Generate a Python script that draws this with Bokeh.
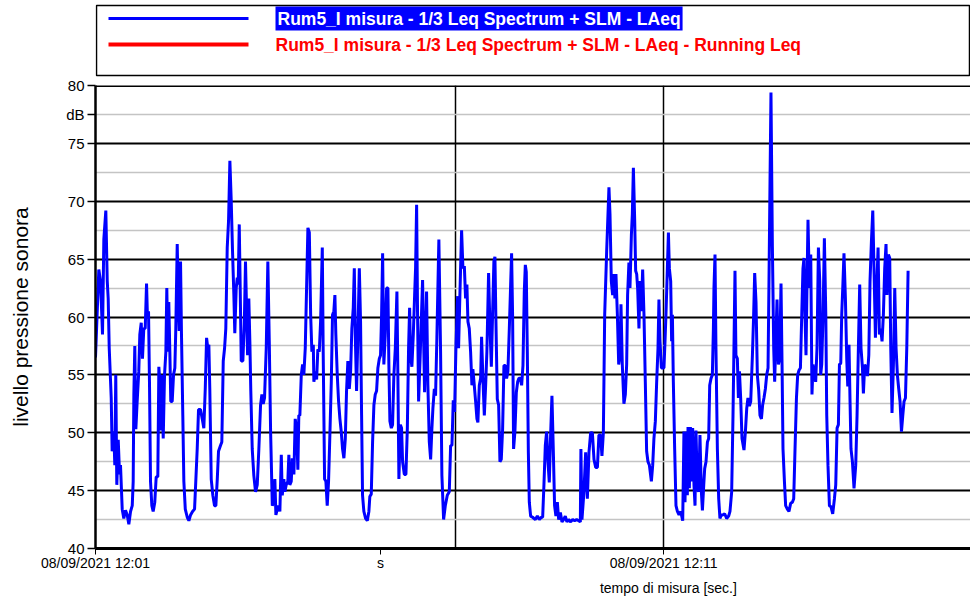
from bokeh.plotting import figure
from bokeh.models import Range1d, FixedTicker, Label, Span, LinearAxis
from bokeh.layouts import column
from bokeh.embed import file_html
from bokeh.resources import INLINE

# ---------------- data ----------------
series_names = [
    "Rum5_I misura - 1/3 Leq Spectrum + SLM - LAeq",
    "Rum5_I misura - 1/3 Leq Spectrum + SLM - LAeq - Running Leq",
]
y_ticks = [40, 45, 50, 55, 60, 65, 70, 75, 80]
y_minor = [42.5, 47.5, 52.5, 57.5, 62.5, 67.5, 72.5, 77.5]
y_unit = "dB"
y_unit_pos = 77.5
x_tick_sec = [0, 301, 600]
x_tick_labels = ["08/09/2021 12:01", "s", "08/09/2021 12:11"]
x_title = "tempo di misura [sec.]"
x_title_pos = 605
x_grid_sec = [380, 600]
x_max_sec = 924

# seconds from 12:01:00
t_sec = [
    0, 3.5, 5.3, 7.4, 8.8, 10.9, 12.4, 13.4, 14.5, 16.6,
    17.6, 19.3, 20.4, 21.4, 22.5, 24.0, 25.4, 26.4, 28.2, 29.9,
    31.7, 33.5, 35.2, 37.0, 38.8, 39.8, 40.5, 41.5, 42.6, 44.0,
    45.7, 46.8, 48.3, 49.6, 51.0, 52.5, 53.9, 54.9, 56.0, 57.0,
    58.1, 59.5, 60.9, 62.6, 64.1, 65.8, 66.9, 67.9, 69.0, 70.0,
    71.5, 72.9, 74.3, 75.3, 76.4, 77.4, 78.5, 79.5, 81.0, 82.4,
    83.8, 84.8, 86.3, 87.4, 88.4, 89.8, 90.8, 92.2, 93.3, 94.8,
    96.9, 98.6, 100.4, 102.5, 104.6, 105.9, 107.4, 108.8, 110.9, 112.7,
    114.4, 115.9, 117.3, 118.6, 119.7, 120.7, 122.2, 123.9, 125.7, 127.1,
    128.6, 129.9, 132.0, 133.4, 134.9, 136.3, 137.6, 139.1, 140.5, 141.9,
    143.3, 144.7, 146.1, 147.1, 148.6, 149.7, 150.7, 151.8, 152.8, 153.9,
    155.6, 157.1, 158.4, 159.5, 160.6, 161.9, 163.0, 164.0, 165.5, 167.2,
    169.0, 170.8, 172.5, 174.3, 175.7, 177.1, 178.5, 180.3, 182.0, 183.5,
    184.9, 186.7, 188.0, 189.4, 190.5, 191.9, 193.3, 194.7, 196.2, 197.2,
    198.9, 200.0, 201.4, 203.1, 204.2, 205.2, 206.7, 207.8, 209.5, 210.9,
    212.3, 213.7, 214.7, 215.8, 217.3, 218.7, 220.0, 221.5, 222.9, 224.3,
    225.8, 227.2, 228.5, 230.0, 230.6, 232.1, 233.5, 234.8, 236.3, 237.7,
    239.5, 240.4, 241.9, 243.3, 244.7, 246.1, 247.5, 249.0, 250.3, 251.7,
    252.8, 253.8, 255.3, 256.7, 258.1, 259.5, 260.9, 262.3, 263.8, 265.1,
    266.5, 268.0, 269.4, 270.7, 272.2, 273.3, 274.3, 275.7, 277.1, 278.6,
    279.9, 281.0, 282.0, 283.4, 285.2, 287.0, 288.7, 289.7, 291.2, 292.6,
    294.0, 295.4, 296.8, 298.2, 299.7, 301.0, 302.1, 303.2, 304.5, 306.0,
    307.4, 308.8, 309.8, 310.9, 312.4, 313.7, 315.1, 316.6, 318.3, 319.3,
    320.4, 321.9, 323.2, 324.3, 326.1, 327.8, 329.3, 330.6, 331.7, 332.7,
    334.1, 335.6, 337.0, 338.0, 339.1, 340.1, 341.2, 343.0, 345.4, 347.5,
    349.6, 351.0, 352.5, 353.9, 355.2, 356.3, 357.8, 359.1, 360.5, 362.6,
    364.4, 365.8, 367.6, 369.4, 371.5, 373.6, 375.0, 376.4, 377.8, 379.2,
    380.6, 382.4, 383.4, 384.8, 386.6, 388.0, 389.5, 390.8, 392.2, 393.3,
    394.7, 396.1, 397.5, 398.5, 400.0, 401.4, 402.8, 403.8, 405.3, 406.7,
    407.7, 409.1, 410.6, 412.0, 413.3, 415.1, 416.5, 418.0, 419.4, 420.7,
    421.8, 422.8, 424.3, 425.7, 427.1, 428.5, 429.9, 431.3, 432.8, 434.1,
    435.5, 437.0, 438.4, 439.4, 440.5, 441.5, 442.9, 444.4, 445.8, 447.1,
    448.6, 450.0, 451.4, 452.8, 453.9, 454.9, 456.0, 457.1, 458.1, 459.5,
    461.6, 464.5, 466.6, 468.7, 470.8, 472.2, 473.5, 475.0, 476.4, 477.8,
    479.2, 480.6, 482.0, 483.5, 484.8, 486.2, 487.7, 489.1, 490.9, 492.6,
    494.3, 496.1, 497.8, 499.6, 501.8, 503.9, 506.0, 508.1, 510.2, 512.0,
    512.6, 513.7, 515.8, 517.6, 519.4, 521.1, 522.9, 524.7, 526.4, 528.2,
    530.0, 531.6, 533.4, 534.8, 536.3, 537.7, 539.8, 542.2, 543.3, 544.7,
    546.1, 547.5, 548.5, 549.6, 551.1, 552.5, 553.8, 554.9, 556.3, 558.0,
    559.5, 560.9, 561.9, 563.3, 564.4, 565.9, 566.9, 568.0, 569.4, 570.4,
    571.5, 572.5, 573.9, 575.0, 576.4, 577.8, 579.2, 580.6, 582.0, 583.4,
    584.9, 587.0, 588.4, 589.7, 591.2, 592.6, 594.0, 595.0, 596.1, 597.6,
    598.9, 600.3, 601.4, 602.4, 603.9, 605.0, 606.0, 607.4, 608.4, 609.2,
    610.2, 611.6, 613.0, 614.5, 616.2, 618.0, 620.1, 621.4, 622.5, 623.9,
    625.0, 625.7, 627.1, 628.2, 629.6, 630.6, 632.0, 633.1, 634.1, 635.6,
    637.0, 638.3, 639.8, 640.9, 642.3, 643.3, 644.7, 646.2, 647.5, 648.6,
    650.0, 651.4, 652.5, 653.1, 654.2, 655.2, 656.7, 658.1, 659.4, 660.9,
    662.3, 664.4, 666.5, 668.6, 670.0, 671.8, 673.2, 674.2, 675.3, 676.3,
    677.8, 678.9, 680.0, 681.3, 682.7, 684.8, 686.3, 687.7, 689.0, 690.5,
    691.9, 693.7, 695.0, 696.1, 697.5, 698.9, 700.3, 701.7, 703.2, 704.5,
    705.9, 707.4, 708.8, 710.2, 711.2, 712.3, 713.3, 714.8, 716.2, 717.2,
    718.6, 719.7, 721.1, 722.5, 723.9, 725.0, 726.0, 727.5, 728.8, 730.6,
    732.3, 734.1, 735.9, 737.3, 738.7, 740.2, 741.5, 742.9, 744.4, 745.8,
    747.1, 748.2, 749.2, 750.3, 751.4, 752.4, 753.9, 755.3, 756.6, 757.7,
    759.2, 760.5, 761.9, 763.4, 764.8, 765.8, 766.9, 768.3, 769.7, 771.2,
    772.2, 773.5, 775.0, 776.7, 778.5, 780.3, 781.7, 783.1, 784.5, 785.6,
    787.0, 788.0, 789.1, 790.4, 791.9, 793.3, 794.4, 795.7, 796.8, 797.8,
    799.3, 801.0, 802.8, 804.2, 805.6, 807.0, 808.4, 809.9, 810.9, 812.3,
    813.7, 815.2, 816.6, 817.9, 819.4, 820.8, 822.1, 823.6, 825.0, 826.4,
    827.8, 829.2, 830.6, 832.0, 833.4, 834.8, 835.8, 837.3, 838.7, 839.8,
    841.1, 842.6, 844.0, 845.4, 846.8, 848.2, 849.6, 851.1, 852.5, 853.8,
    855.3, 856.7, 858.1,
]

laeq_db = [
    56.5, 64.1, 63.1, 58.5, 66.7, 69.2, 63.1, 61.6, 57.3, 53.0,
    48.4, 50.1, 47.2, 55.0, 45.5, 49.4, 46.4, 47.2, 43.4, 42.6,
    43.3, 42.9, 42.1, 43.2, 43.7, 45.8, 53.3, 57.5, 50.3, 52.7,
    55.3, 58.5, 59.5, 56.4, 59.0, 59.0, 62.9, 59.9, 60.5, 54.4,
    45.8, 43.7, 43.2, 44.0, 46.2, 46.2, 55.7, 54.4, 50.2, 55.0,
    49.5, 55.0, 57.0, 62.5, 57.0, 61.3, 57.0, 52.7, 52.7, 55.0,
    55.6, 59.0, 66.3, 61.6, 58.8, 64.8, 58.5, 51.5, 45.8, 43.4,
    42.7, 42.4, 42.9, 43.2, 43.4, 45.8, 48.6, 52.0, 52.0, 51.2,
    50.4, 53.8, 58.2, 57.3, 57.6, 53.8, 46.0, 44.6, 43.7, 43.7,
    46.0, 48.4, 48.9, 49.2, 56.2, 57.3, 59.0, 66.0, 68.3, 73.5,
    70.1, 65.7, 61.9, 58.6, 62.5, 63.4, 62.8, 68.0, 62.5, 56.2,
    56.2, 59.3, 64.8, 60.8, 56.7, 61.6, 57.9, 53.6, 48.6, 46.3,
    44.9, 45.5, 48.6, 52.4, 53.3, 52.5, 53.0, 57.3, 64.8, 57.9,
    50.1, 43.7, 44.0, 46.0, 42.9, 43.4, 43.7, 43.2, 48.1, 44.6,
    46.0, 44.9, 45.5, 45.8, 48.1, 45.5, 45.8, 47.8, 46.4, 51.2,
    50.4, 46.8, 51.5, 51.5, 55.0, 55.9, 55.0, 57.3, 62.5, 67.7,
    67.3, 60.2, 57.0, 57.6, 54.4, 55.3, 54.6, 57.2, 57.0, 59.6,
    66.0, 57.3, 46.0, 45.8, 43.7, 45.8, 49.8, 54.4, 60.2, 60.5,
    61.9, 58.5, 55.0, 52.7, 51.2, 50.1, 48.6, 47.8, 49.5, 53.6,
    56.2, 53.8, 55.3, 59.0, 60.8, 64.2, 58.5, 53.6, 58.5, 64.2,
    59.6, 51.5, 44.6, 43.2, 42.6, 42.4, 43.2, 44.5, 44.7, 49.2,
    52.4, 53.3, 53.6, 55.6, 56.4, 56.7, 60.2, 65.5, 55.9, 58.5,
    62.5, 62.5, 55.9, 51.0, 50.4, 50.7, 55.0, 57.3, 62.2, 55.0,
    46.0, 50.7, 50.4, 47.5, 46.4, 46.4, 50.4, 57.3, 60.8, 56.7,
    55.7, 58.5, 61.9, 64.2, 69.7, 60.2, 52.7, 57.0, 63.2, 53.5,
    62.2, 54.1, 49.2, 47.7, 50.3, 52.1, 53.8, 53.2, 58.2, 66.7,
    57.0, 46.3, 42.5, 43.7, 44.6, 44.9, 48.9, 48.9, 52.8, 51.8,
    57.3, 61.8, 57.3, 61.9, 67.5, 64.2, 64.4, 61.6, 62.8, 59.6,
    59.0, 57.0, 54.1, 55.5, 54.1, 52.7, 51.2, 50.9, 54.1, 54.7,
    58.3, 54.7, 51.5, 54.1, 57.0, 63.8, 59.3, 55.7, 60.5, 64.8,
    65.2, 59.9, 52.9, 52.4, 47.5, 47.7, 50.3, 55.8, 55.8, 54.7,
    55.3, 59.0, 62.8, 65.5, 59.9, 48.6, 50.1, 53.5, 54.4, 54.7,
    54.7, 54.1, 55.8, 62.2, 64.5, 63.9, 57.0, 48.3, 44.0, 42.8,
    42.7, 42.5, 42.8, 42.5, 42.7, 42.7, 45.4, 48.9, 50.1, 47.5,
    45.7, 49.8, 53.2, 48.3, 43.7, 42.8, 44.0, 42.5, 43.1, 42.3,
    42.5, 42.8, 42.3, 42.5, 42.3, 42.5, 42.4, 42.5, 42.4, 42.3,
    48.6, 42.5, 44.9, 48.3, 44.3, 48.3, 50.0, 50.0, 47.7, 47.0,
    47.0, 49.8, 49.8, 48.0, 50.0, 60.2, 65.7, 71.2, 68.9, 63.1,
    61.9, 63.7, 61.6, 63.7, 60.2, 55.9, 56.7, 61.1, 55.9, 52.5,
    53.3, 55.9, 61.9, 64.7, 62.5, 67.1, 68.9, 72.9, 68.3, 64.0,
    63.7, 62.5, 59.0, 63.1, 60.5, 64.1, 60.2, 54.4, 48.4, 47.5,
    47.2, 45.8, 47.2, 49.5, 51.0, 54.4, 57.3, 61.5, 57.9, 55.6,
    55.6, 55.6, 57.9, 60.2, 64.2, 67.3, 64.2, 63.1, 57.9, 60.2,
    54.4, 48.6, 43.7, 43.2, 42.9, 43.2, 42.4, 50.1, 44.0, 50.1,
    44.6, 50.5, 45.2, 50.5, 45.8, 50.4, 45.5, 43.7, 50.2, 45.2,
    44.9, 49.8, 44.9, 43.3, 45.5, 46.9, 47.5, 49.2, 49.5, 54.1,
    54.7, 55.0, 59.0, 62.5, 65.4, 57.3, 48.6, 44.3, 42.6, 42.9,
    42.9, 43.0, 42.6, 42.8, 43.2, 44.9, 51.5, 57.3, 64.0, 56.7,
    56.4, 53.0, 55.3, 53.0, 49.5, 48.5, 50.1, 52.1, 53.0, 52.3,
    52.7, 56.7, 60.2, 63.8, 61.3, 55.0, 53.7, 51.5, 51.2, 52.4,
    53.0, 53.8, 55.0, 55.6, 63.1, 71.8, 79.4, 66.0, 57.3, 54.4,
    58.5, 61.5, 55.9, 56.4, 62.9, 55.9, 48.6, 45.8, 43.7, 43.4,
    43.2, 43.9, 44.0, 44.3, 48.6, 53.0, 55.0, 55.4, 55.6, 60.2,
    64.2, 65.1, 60.2, 56.7, 63.1, 68.4, 62.5, 65.4, 53.3, 55.9,
    55.0, 54.4, 57.3, 66.0, 63.1, 55.0, 55.9, 60.2, 66.8, 60.2,
    51.5, 47.2, 43.7, 43.6, 43.0, 44.3, 45.5, 50.4, 50.7, 55.9,
    56.0, 60.2, 62.5, 65.5, 61.6, 56.4, 54.0, 57.6, 52.7, 48.6,
    47.5, 45.2, 47.2, 51.5, 57.3, 62.8, 57.3, 55.6, 53.4, 55.9,
    55.6, 54.9, 56.7, 63.1, 66.6, 69.2, 64.2, 58.2, 62.5, 66.0,
    58.5, 59.0, 57.9, 60.2, 64.2, 66.3, 61.9, 65.4, 65.1, 57.3,
    51.7, 55.9, 62.5, 57.3, 55.0, 53.8, 52.7, 50.1, 51.5, 52.7,
    53.0, 57.3, 64.0,
]
assert len(t_sec) == len(laeq_db)

# ---------------- styles ----------------
SANS = "Liberation Sans"
BLUE = "#0000FF"
RED = "#FF0000"
FIG_W = 970
LEFT = 95

# ---------------- legend panel (coordinates = page pixels) ----------------
leg = figure(width=FIG_W, height=78, x_range=Range1d(LEFT, FIG_W), y_range=Range1d(78, 0),
             output_backend="svg", toolbar_location=None,
             min_border_left=LEFT, min_border_right=0, min_border_top=0, min_border_bottom=0)
leg.axis.visible = False
leg.grid.visible = False
leg.outline_line_color = None
leg.quad(left=[96], right=[969], top=[5], bottom=[75], fill_color=None,
         line_color="black", line_width=1.5)
leg.line([108, 248], [18, 18], line_color=BLUE, line_width=3)
leg.line([108, 248], [44, 44], line_color=RED, line_width=4)
leg.add_layout(Label(x=275, y=18, text=series_names[0], text_color="white",
                     background_fill_color=BLUE, text_font=SANS, padding=2,
                     text_font_style="bold", text_font_size="17.5px",
                     text_baseline="middle"))
leg.add_layout(Label(x=275, y=44, text=series_names[1], text_color=RED,
                     text_font=SANS, text_font_style="bold",
                     text_font_size="17.5px", text_baseline="middle"))

# ---------------- main plot ----------------
p = figure(width=FIG_W, height=521, x_range=Range1d(0, x_max_sec), y_range=Range1d(40, 80),
           output_backend="svg", toolbar_location=None,
           min_border_left=LEFT, min_border_right=0, min_border_top=7, min_border_bottom=51)
p.outline_line_color = None

p.yaxis.ticker = FixedTicker(ticks=y_ticks + [y_unit_pos])
p.yaxis.major_label_overrides = {y_unit_pos: y_unit}
p.yaxis.minor_tick_line_color = None
p.yaxis.major_tick_out = 8
p.yaxis.major_tick_in = 0
p.yaxis.major_tick_line_color = "black"
p.yaxis.major_tick_line_width = 1.5
p.yaxis.axis_line_color = "black"
p.yaxis.axis_line_width = 2.5
p.yaxis.major_label_text_font = SANS
p.yaxis.major_label_text_font_size = "15px"
p.yaxis.major_label_text_color = "black"
p.yaxis.major_label_standoff = 3
p.yaxis.axis_label = "livello pressione sonora"
p.yaxis.axis_label_text_font = SANS
p.yaxis.axis_label_text_font_style = "normal"
p.yaxis.axis_label_text_font_size = "21px"
p.yaxis.axis_label_text_color = "black"
p.yaxis.axis_label_standoff = 31

p.xaxis.ticker = FixedTicker(ticks=x_tick_sec)
p.xaxis.major_label_overrides = dict(zip(x_tick_sec, x_tick_labels))
p.xaxis.minor_tick_line_color = None
p.xaxis.major_tick_out = 6
p.xaxis.major_tick_in = 0
p.xaxis.major_tick_line_color = "black"
p.xaxis.axis_line_color = "black"
p.xaxis.axis_line_width = 3
p.xaxis.major_label_text_font = SANS
p.xaxis.major_label_text_font_size = "14px"
p.xaxis.major_label_text_color = "black"
p.xaxis.major_label_standoff = 0

title_axis = LinearAxis(ticker=FixedTicker(ticks=[x_title_pos]),
                        major_label_overrides={x_title_pos: x_title},
                        axis_line_color=None, major_tick_line_color=None,
                        minor_tick_line_color=None, major_label_standoff=6,
                        major_tick_out=0, major_tick_in=0,
                        major_label_text_font=SANS, major_label_text_font_size="14px",
                        major_label_text_color="black")
p.add_layout(title_axis, "below")

p.ygrid.ticker = FixedTicker(ticks=y_ticks, minor_ticks=y_minor)
p.ygrid.grid_line_color = "black"
p.ygrid.grid_line_width = 2
p.ygrid.minor_grid_line_color = "#c4c4c4"
p.ygrid.minor_grid_line_width = 1.5
p.xgrid.ticker = FixedTicker(ticks=x_grid_sec)
p.xgrid.grid_line_color = "black"
p.xgrid.grid_line_width = 1.5

p.add_layout(Span(location=80, dimension="width", line_color="black", line_width=3))

p.line(t_sec, laeq_db, line_color=BLUE, line_width=3)

layout = column(leg, p, spacing=0)
open("out.html", "w").write(file_html(layout, INLINE))
